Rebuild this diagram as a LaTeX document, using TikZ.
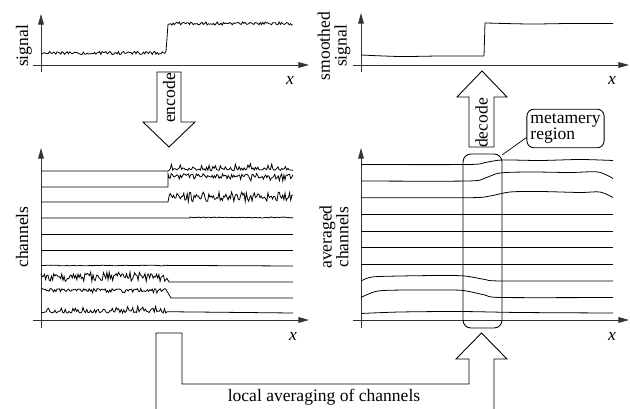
\documentclass[tikz,border=0pt]{standalone}
\usepackage{fontspec}
\setmainfont{Liberation Serif}
\usetikzlibrary{arrows.meta, positioning, calc}

\begin{document}
\begin{tikzpicture}[
    x=0.57pt, y=-0.57pt,
    every node/.style={font=\fontsize{10}{9.5}\selectfont, align=center, inner sep=1pt},
    axis/.style={line width=0.5pt, black!80, -{Triangle[length=6pt, width=3.2pt]}},
    curve/.style={line width=0.45pt, black},
    bigarrow/.style={line width=0.5pt, line join=miter},
    xlabel/.style={font=\itshape\fontsize{10}{10}\selectfont},
    ylabel/.style={rotate=90},
    region/.style={draw, line width=0.5pt, rounded corners=4.5pt, minimum width=22.2pt,
                   minimum height=99.2pt},
    callout/.style={draw, line width=0.5pt, rounded corners=4pt, minimum width=44pt,
                    minimum height=22pt, align=left, inner sep=2pt}
]
\useasboundingbox (0,0) rectangle (630,409);
\pgfmathsetseed{4242}

% signal
\draw[axis] (41,72) -- (41,14);
\draw[axis] (33,65) -- (309,65);
\draw[curve] plot[domain=42:166, samples=100] (\x,{53+1.6*rand})
    -- plot[domain=168:293, samples=100] (\x,{23.5+1.6*rand});
\node[ylabel] (siglab) at (24,46) {signal};
\node[xlabel] (xa) at (290,80) {x};

% smoothed signal
\draw[axis] (361,72) -- (361,13);
\draw[axis] (353,65) -- (629,65);
\draw[curve] plot[smooth] coordinates {(361,55) (400,56.5) (440,56) (484,56)}
    -- (485,23) -- plot[smooth] coordinates {(486,23) (530,24) (570,23.5) (613,23.5)};
\node[ylabel] (smlab) at (334,46) {smoothed\\signal};
\node[xlabel] (xb) at (612,80) {x};

% channels
\draw[axis] (41,328) -- (41,148);
\draw[axis] (33,320) -- (309,320);
\draw[curve] (41,171) -- (168,171) -- plot[domain=169:293, samples=100] (\x,{170.5-8*rnd*rnd});
\draw[curve] (41,187) -- (168,187) -- (168,174) -- plot[domain=169:293, samples=110] (\x,{173.5+9*rnd*(0.3+0.7*rnd)});
\draw[curve] (41,202) -- (168,202) -- plot[domain=169:293, samples=110] (\x,{201.5-9.5*rnd});
\draw[curve] (41,218) -- (190,218) -- plot[domain=190:293, samples=60] (\x,{218-1*rnd});
\draw[curve] (41,234) -- (293,234);
\draw[curve] (41,250) -- (293,250);
\draw[curve] plot[domain=41:168, samples=40] (\x,{266-0.8*rnd}) -- (293,266);
\draw[curve] plot[domain=41:167, samples=110] (\x,{281.5-9.5*rnd}) -- (169,282) -- (293,282);
\draw[curve] plot[domain=41:166, samples=110] (\x,{288.5+5*rnd*(0.3+0.7*rnd)}) -- (171,298) -- (293,298);
\draw[curve] plot[domain=41:167, samples=100] (\x,{313-8*rnd*rnd}) -- (293,313);
\node[ylabel] (chlab) at (22,237) {channels};
\node[xlabel] (xc) at (293,336) {x};

% averaged channels
\draw[axis] (361,328) -- (361,148);
\draw[axis] (353,320) -- (629,320);
\draw[curve] plot[smooth] coordinates {(361,164.5) (468,164.5) (485,162.5) (502,160) (540,160.5) (580,159.5) (613,160.5)};
\draw[curve] plot[smooth] coordinates {(361,181) (468,181) (485,178) (500,173) (530,172) (570,172.5) (598,172) (613,178.5)};
\draw[curve] plot[smooth] coordinates {(361,197.7) (470,197.7) (490,196) (510,192) (540,191.5) (580,192.5) (600,192) (613,197.5)};
\draw[curve] (361,214.3) -- (613,214.3);
\draw[curve] (361,230.9) -- (613,230.9);
\draw[curve] (361,247.5) -- (613,247.5);
\draw[curve] (361,264.1) -- (613,264.1);
\draw[curve] plot[smooth] coordinates {(361,281) (372,277) (400,276) (440,275.5) (465,276) (485,279.5) (502,281) (613,281)};
\draw[curve] plot[smooth] coordinates {(361,297.5) (378,291) (410,290) (440,290) (463,290.5) (485,295) (502,297.5) (613,297.5)};
\draw[curve] plot[smooth] coordinates {(361,313.5) (400,312) (460,311.5) (520,312.5) (613,313)};
\node[ylabel] (avlab) at (334,237) {averaged\\channels};
\node[xlabel] (xd) at (612,336) {x};

% metamery region
\node[region] (region) at (482.5,241) {};
\node[callout] (meta) at (565.5,128.5) {metamery\\region};
\draw[line width=0.4pt] (meta.193) -- (region.77);

% encode / decode
\draw[bigarrow] (157,72) -- (181,72) -- (181,122) -- (195,122) -- (169,147)
    -- (143,122) -- (157,122) -- cycle;
\node[rotate=90] (enc) at (169,98) {encode};
\draw[bigarrow] (469,147) -- (469,97) -- (457,97) -- (482,71) -- (507,97)
    -- (494,97) -- (494,147) -- cycle;
\node[rotate=90] (dec) at (481.5,123) {decode};

% local averaging
\draw[bigarrow] (156,409) -- (156,333) -- (182,333) -- (182,384) -- (469,384)
    -- (469,359) -- (456,359) -- (481.5,333) -- (507,359) -- (494,359) -- (494,409);
\node (avg) at (324,397) {local averaging of channels};
\end{tikzpicture}
\end{document}
